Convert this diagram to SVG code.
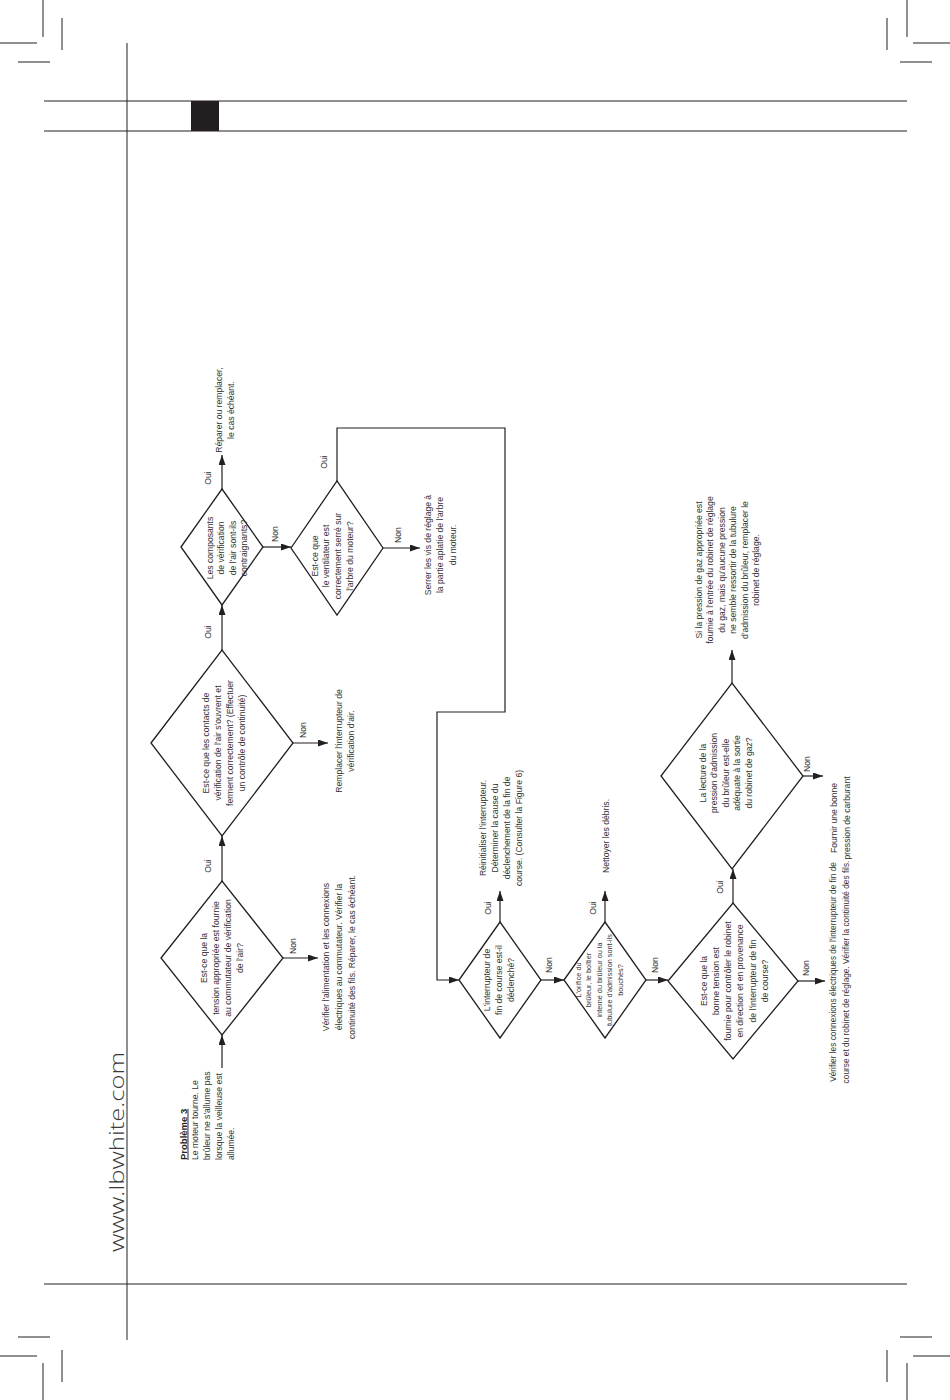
<svg xmlns="http://www.w3.org/2000/svg" width="950" height="1400" viewBox="0 0 950 1400">
<style>
.fr{stroke:#231f20;stroke-width:1;fill:none}
.d{fill:#fff;stroke:#231f20;stroke-width:1.3}
.c{fill:none;stroke:#231f20;stroke-width:1.2}
.t{font-family:"Liberation Sans",Arial,sans-serif;font-size:8.6px;fill:#333;text-anchor:middle}
.s{font-size:7.3px}
.sm{font-size:8.3px}
.st{text-anchor:start}
</style>
<defs>
<marker id="a" markerUnits="userSpaceOnUse" markerWidth="11" markerHeight="8" refX="10" refY="3.5" orient="auto">
<path d="M0,0 L10,3.5 L0,7 Z" fill="#231f20"/>
</marker>
</defs>
<rect width="950" height="1400" fill="#fff"/>
<g id="frame">
<path class="fr" d="M43,0V37M0,43H37M62,18V50M18,62H50"/>
<path class="fr" d="M907,0V37M913,43H950M887,18V50M900,62H932"/>
<path class="fr" d="M18,1337H50M0,1356H37M62,1350V1382M43,1363V1400"/>
<path class="fr" d="M900,1337H932M913,1356H950M887,1350V1382M907,1363V1400"/>
<path class="fr" d="M44,101H907M44,131H907M44,1284H907M127,43V1340"/>
<rect x="191" y="101" width="28" height="30" fill="#231f20"/>
<text transform="translate(124,1252) rotate(-90)" font-family="'Open Sans','Liberation Sans',sans-serif" font-weight="300" font-size="19.5" fill="#3a3a3a" textLength="200" lengthAdjust="spacingAndGlyphs">www.lbwhite.com</text>
</g>
<g id="connectors">
<path class="c" d="M222,1068V1035" marker-end="url(#a)"/>
<path class="c" d="M222,881V836" marker-end="url(#a)"/>
<path class="c" d="M222,650V605" marker-end="url(#a)"/>
<path class="c" d="M222,489V455" marker-end="url(#a)"/>
<path class="c" d="M283,958H318" marker-end="url(#a)"/>
<path class="c" d="M293,743H328" marker-end="url(#a)"/>
<path class="c" d="M263,547H291" marker-end="url(#a)"/>
<path class="c" d="M383,548H420" marker-end="url(#a)"/>
<path class="c" d="M337,481V428H505V712H437V980H459" marker-end="url(#a)"/>
<path class="c" d="M500,922V891" marker-end="url(#a)"/>
<path class="c" d="M541,980H564" marker-end="url(#a)"/>
<path class="c" d="M605,922V891" marker-end="url(#a)"/>
<path class="c" d="M646,980H668" marker-end="url(#a)"/>
<path class="c" d="M733,903V869" marker-end="url(#a)"/>
<path class="c" d="M798,981H825" marker-end="url(#a)"/>
<path class="c" d="M732,683V650" marker-end="url(#a)"/>
<path class="c" d="M803,776H823" marker-end="url(#a)"/>
<g class="t">
<text class="t" transform="translate(211,866) rotate(-90)">Oui</text>
<text class="t" transform="translate(211,632) rotate(-90)">Oui</text>
<text class="t" transform="translate(211,478) rotate(-90)">Oui</text>
<text class="t" transform="translate(296,946) rotate(-90)">Non</text>
<text class="t" transform="translate(306,730) rotate(-90)">Non</text>
<text class="t" transform="translate(278,534) rotate(-90)">Non</text>
<text class="t" transform="translate(401,535) rotate(-90)">Non</text>
<text class="t" transform="translate(327,462) rotate(-90)">Oui</text>
<text class="t" transform="translate(491,908) rotate(-90)">Oui</text>
<text class="t" transform="translate(552,965) rotate(-90)">Non</text>
<text class="t" transform="translate(596,908) rotate(-90)">Oui</text>
<text class="t" transform="translate(658,965) rotate(-90)">Non</text>
<text class="t" transform="translate(723,887) rotate(-90)">Oui</text>
<text class="t" transform="translate(809,968) rotate(-90)">Non</text>
<text class="t" transform="translate(810,764) rotate(-90)">Non</text>
</g>
</g>
<g id="start">
<text class="t st" transform="translate(186.5,1160) rotate(-90)"><tspan x="0" y="0" font-weight="bold" font-size="9.5" text-decoration="underline" fill="#231f20">Problème 3</tspan><tspan x="0" y="11.8">Le moteur tourne. Le</tspan><tspan x="0" y="23.6">brûleur ne s'allume pas</tspan><tspan x="0" y="35.4">lorsque la veilleuse est</tspan><tspan x="0" y="47.2">allumée.</tspan></text>
</g>
<g id="d1">
<polygon class="d" points="161,958 222,881 283,958 222,1035"/>
<text class="t" transform="translate(206.5,958) rotate(-90)"><tspan x="0" y="0">Est-ce que la</tspan><tspan x="0" y="12.3">tension appropriée est fournie</tspan><tspan x="0" y="24.6">au commutateur de vérification</tspan><tspan x="0" y="36.9">de l'air?</tspan></text>
</g>
<g id="r1">
<text class="t" transform="translate(328.5,957) rotate(-90)"><tspan x="0" y="0">Vérifier l'alimentation et les connexions</tspan><tspan x="0" y="13">électriques au commutateur. Vérifier la</tspan><tspan x="0" y="26">continuité des fils. Réparer, le cas échéant.</tspan></text>
</g>
<g id="d2">
<polygon class="d" points="151,743 222,650 293,743 222,836"/>
<text class="t" transform="translate(208.5,743) rotate(-90)"><tspan x="0" y="0">Est-ce  que les contacts de</tspan><tspan x="0" y="12.2">vérification de l'air s'ouvrent et</tspan><tspan x="0" y="24.4">ferment correctement? (Effectuer</tspan><tspan x="0" y="36.6">un contrôle de continuité)</tspan></text>
</g>
<g id="r2">
<text class="t" transform="translate(341.5,741) rotate(-90)"><tspan x="0" y="0">Remplacer l'interrupteur de</tspan><tspan x="0" y="12.3">vérification d'air.</tspan></text>
</g>
<g id="d3">
<polygon class="d" points="181,547 222,489 263,547 222,605"/>
<text class="t" transform="translate(213,548) rotate(-90)"><tspan x="0" y="0">Les composants</tspan><tspan x="0" y="11.3">de vérification</tspan><tspan x="0" y="22.6">de l'air sont-ils</tspan><tspan x="0" y="33.9">contraignants?</tspan></text>
</g>
<g id="r3">
<text class="t" transform="translate(221.5,410) rotate(-90)"><tspan x="0" y="0">Réparer ou remplacer,</tspan><tspan x="0" y="12.5">le cas échéant.</tspan></text>
</g>
<g id="d4">
<polygon class="d" points="291,548 337,481 383,548 337,615"/>
<text class="t" transform="translate(317.5,556) rotate(-90)"><tspan x="0" y="0">Est-ce que</tspan><tspan x="0" y="11.7">le ventilateur est</tspan><tspan x="0" y="23.4">correctement serré sur</tspan><tspan x="0" y="35.1">l'arbre du moteur?</tspan></text>
</g>
<g id="r4">
<text class="t" transform="translate(430.5,545) rotate(-90)"><tspan x="0" y="0">Serrer les vis de réglage à</tspan><tspan x="0" y="12.5">la partie aplatie de l'arbre</tspan><tspan x="0" y="25">du moteur.</tspan></text>
</g>
<g id="d5">
<polygon class="d" points="459,980 500,922 541,980 500,1038"/>
<text class="t" transform="translate(489.5,980) rotate(-90)"><tspan x="0" y="0">L'interrupteur de</tspan><tspan x="0" y="12">fin de course est-il</tspan><tspan x="0" y="24">déclenché?</tspan></text>
</g>
<g id="r5">
<text class="t" transform="translate(485.5,828) rotate(-90)"><tspan x="0" y="0">Réinitialiser l'interrupteur.</tspan><tspan x="0" y="12">Déterminer la cause du</tspan><tspan x="0" y="24">déclenchement de la fin de</tspan><tspan x="0" y="36">course. (Consulter la Figure 6)</tspan></text>
</g>
<g id="d6">
<polygon class="d" points="564,980 605,922 646,980 605,1038"/>
<text class="t s" transform="translate(581,980) rotate(-90)"><tspan x="0" y="0">L'orifice du</tspan><tspan x="0" y="10.4">brûleur, le boîtier</tspan><tspan x="0" y="20.8">interne du brûleur ou la</tspan><tspan x="0" y="31.2">tubulure d'admission sont-ils</tspan><tspan x="0" y="41.6">bouchés?</tspan></text>
</g>
<g id="r6">
<text class="t" transform="translate(608.5,836) rotate(-90)">Nettoyer les débris.</text>
</g>
<g id="d7">
<polygon class="d" points="668,981 733,903 798,981 733,1059"/>
<text class="t" transform="translate(706.5,981) rotate(-90)"><tspan x="0" y="0">Est-ce que la</tspan><tspan x="0" y="12.3">bonne tension est</tspan><tspan x="0" y="24.6">fournie pour contrôler le robinet</tspan><tspan x="0" y="36.9">en direction et en provenance</tspan><tspan x="0" y="49.2">de l'interrupteur de fin</tspan><tspan x="0" y="61.5">de course?</tspan></text>
</g>
<g id="r7">
<text class="t sm" transform="translate(835.5,972) rotate(-90)"><tspan x="0" y="0">Vérifier les connexions électriques de l'interrupteur de fin de</tspan><tspan x="0" y="13">course et du robinet de réglage. Vérifier la continuité des fils.</tspan></text>
</g>
<g id="d8">
<polygon class="d" points="661,776 732,683 803,776 732,869"/>
<text class="t" transform="translate(705.5,773) rotate(-90)"><tspan x="0" y="0">La lecture de la</tspan><tspan x="0" y="11.6">pression d'admission</tspan><tspan x="0" y="23.2">du brûleur est-elle</tspan><tspan x="0" y="34.8">adéquate à la sortie</tspan><tspan x="0" y="46.4">du robinet de gaz?</tspan></text>
</g>
<g id="r8">
<text class="t" transform="translate(701.5,570) rotate(-90)"><tspan x="0" y="0">Si la pression de gaz appropriée est</tspan><tspan x="0" y="11.5">fournie à l'entrée du robinet de réglage</tspan><tspan x="0" y="23">du gaz, mais qu'aucune pression</tspan><tspan x="0" y="34.5">ne semble ressortir de la tubulure</tspan><tspan x="0" y="46">d'admission du brûleur, remplacer le</tspan><tspan x="0" y="57.5">robinet de réglage.</tspan></text>
</g>
<g id="r9">
<text class="t" transform="translate(836.5,818) rotate(-90)"><tspan x="0" y="0">Fournir une bonne</tspan><tspan x="0" y="13">pression de carburant</tspan></text>
</g>
</svg>
